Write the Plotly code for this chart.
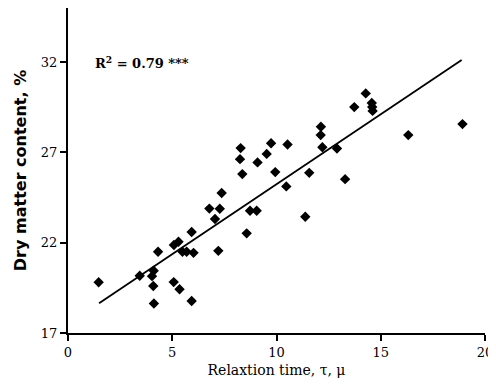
import plotly.graph_objects as go
import numpy as np

# Data
relaxation_time = [1.47, 3.44, 4.11, 4.03, 4.09, 4.12, 4.32, 5.07, 5.35, 5.93,
                   5.08, 5.30, 5.49, 5.69, 6.02, 5.93, 6.78, 7.28, 7.05, 7.21,
                   7.37, 8.57, 8.73, 9.05, 8.28, 8.25, 8.36, 9.74, 9.53, 9.09,
                   10.53, 9.94, 11.57, 10.47, 11.38, 12.13, 12.12, 12.20, 12.90, 13.29,
                   13.73, 14.28, 14.57, 14.59, 14.61, 16.32, 18.92]
dry_matter = [19.81, 20.17, 20.45, 20.15, 19.60, 18.63, 21.50, 19.82, 19.42, 18.77,
              21.87, 22.05, 21.50, 21.50, 21.44, 22.59, 23.89, 23.88, 23.31, 21.55,
              24.75, 22.52, 23.77, 23.77, 27.24, 26.63, 25.80, 27.51, 26.92, 26.45,
              27.44, 25.91, 25.87, 25.12, 23.44, 28.42, 27.96, 27.29, 27.22, 25.52,
              29.51, 30.27, 29.74, 29.52, 29.30, 27.96, 28.57]

# Regression line
fit_intercept = 17.49
fit_slope = 0.7746
fit_x_range = [1.49, 18.88]

x_ticks = [0, 5, 10, 15, 20]
y_ticks = [17, 22, 27, 32]

fit_x = np.array(fit_x_range)
fit_y = fit_intercept + fit_slope * fit_x

serif = "DejaVu Serif"
sans = "DejaVu Sans"

fig = go.Figure()
fig.add_trace(go.Scatter(
    x=relaxation_time, y=dry_matter, mode="markers",
    marker=dict(symbol="diamond", size=8, color="black"),
    showlegend=False, hoverinfo="skip"))
fig.add_trace(go.Scatter(
    x=fit_x, y=fit_y, mode="lines",
    line=dict(color="black", width=1.8),
    showlegend=False, hoverinfo="skip"))

fig.add_annotation(x=1.2, y=32, xref="x", yref="y", xanchor="left", yanchor="middle",
                   text="<b>R<sup>2</sup> = 0.79 ***</b>", showarrow=False,
                   font=dict(family=serif, size=13, color="black"))

fig.update_xaxes(range=[0, 20], tickvals=x_ticks, ticks="outside", ticklen=6,
                 tickwidth=1.5, tickcolor="black",
                 showline=True, linecolor="black", linewidth=2, showgrid=False,
                 zeroline=False,
                 tickfont=dict(family=serif, size=13, color="black"),
                 title=dict(text="Relaxtion time, τ, μ", standoff=7,
                            font=dict(family=serif, size=14, color="black")))
fig.update_yaxes(range=[17, 35], tickvals=y_ticks, ticks="outside", ticklen=6,
                 tickwidth=1.5, tickcolor="black",
                 showline=True, linecolor="black", linewidth=2, showgrid=False,
                 zeroline=False,
                 tickfont=dict(family=serif, size=13, color="black"),
                 title=dict(text="<b>Dry matter content, %</b>", standoff=10,
                            font=dict(family=sans, size=16, color="black")))

# page body has an 8px default margin, so the figure is sized to fit the window
fig.update_layout(width=488, height=377,
                  margin=dict(l=60, r=11, t=0, b=52),
                  plot_bgcolor="white", paper_bgcolor="white")

fig.write_html("out.html")
